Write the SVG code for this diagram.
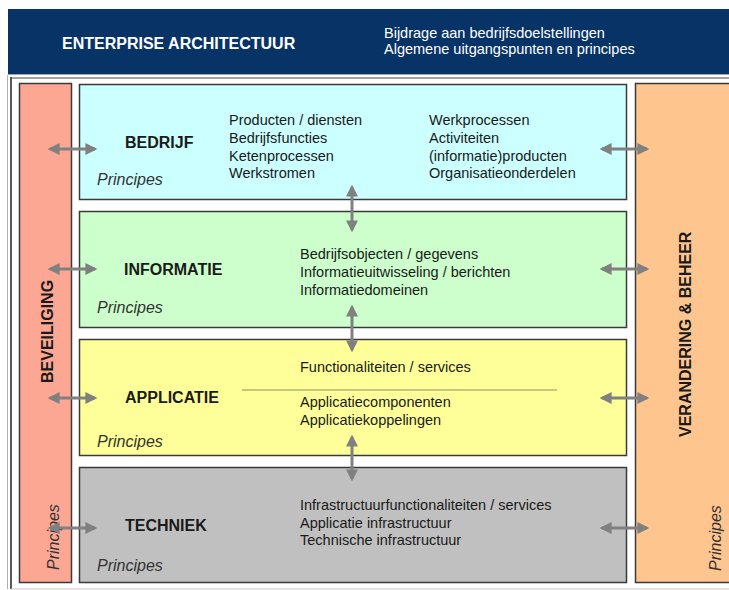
<svg xmlns="http://www.w3.org/2000/svg" width="729" height="590" viewBox="0 0 729 590">
<defs>
<style>
.t{font-family:"Liberation Sans",Arial,sans-serif;font-size:14.5px;fill:#1a1a1a}
.h{font-family:"Liberation Sans",Arial,sans-serif;font-size:16px;font-weight:bold;fill:#1a1a1a}
.p{font-family:"Liberation Sans",Arial,sans-serif;font-size:16px;font-style:italic;fill:#333}
.box{stroke:#3a3a3a;stroke-width:1.5}
.arr{stroke:#808080;stroke-width:3;fill:none;marker-start:url(#ah);marker-end:url(#ah)}
</style>
<marker id="ah" viewBox="0 0 10 10" refX="8" refY="5" markerWidth="4" markerHeight="4" orient="auto-start-reverse" markerUnits="strokeWidth">
<path d="M0,0 L10,5 L0,10 z" fill="#808080"/>
</marker>
</defs>
<rect width="729" height="590" fill="#ffffff"/>
<g id="header">
<rect x="8" y="9" width="721" height="65" fill="#083366"/>
<line x1="8" y1="74.5" x2="729" y2="74.5" stroke="#9aa6b8" stroke-width="1"/>
<text x="62" y="49" font-family="'Liberation Sans',Arial,sans-serif" font-size="16" font-weight="bold" fill="#ffffff">ENTERPRISE ARCHITECTUUR</text>
<text x="384" y="38" font-family="'Liberation Sans',Arial,sans-serif" font-size="14.5" fill="#ffffff">Bijdrage aan bedrijfsdoelstellingen</text>
<text x="384" y="54" font-family="'Liberation Sans',Arial,sans-serif" font-size="14.5" fill="#ffffff">Algemene uitgangspunten en principes</text>
</g>
<g id="frame">
<line x1="7.5" y1="75" x2="7.5" y2="589" stroke="#b0b0b0" stroke-width="1"/>
<line x1="11" y1="77" x2="11" y2="589" stroke="#222" stroke-width="1.5"/>
<line x1="11" y1="78" x2="729" y2="78" stroke="#444" stroke-width="1"/>
<line x1="11" y1="589" x2="729" y2="589" stroke="#c8c8c8" stroke-width="1"/>
</g>
<g id="beveiliging">
<rect class="box" x="19.5" y="83.5" width="52" height="499" fill="#fca793"/>
<text class="h" transform="translate(53,383) rotate(-90)">BEVEILIGING</text>
<text class="p" transform="translate(59,570) rotate(-90)">Principes</text>
</g>
<g id="verandering">
<rect class="box" x="635.5" y="83.5" width="100" height="499" fill="#fec68e"/>
<text class="h" transform="translate(691,437) rotate(-90)">VERANDERING &amp; BEHEER</text>
<text class="p" transform="translate(721,571) rotate(-90)">Principes</text>
</g>
<g id="bedrijf">
<rect class="box" x="79.5" y="84.5" width="547" height="115" fill="#ccffff"/>
<text class="h" x="125" y="148">BEDRIJF</text>
<text class="p" x="97" y="185">Principes</text>
<text class="t" x="229" y="125">Producten / diensten</text>
<text class="t" x="229" y="143">Bedrijfsfuncties</text>
<text class="t" x="229" y="161">Ketenprocessen</text>
<text class="t" x="229" y="178">Werkstromen</text>
<text class="t" x="429" y="125">Werkprocessen</text>
<text class="t" x="429" y="143">Activiteiten</text>
<text class="t" x="429" y="161">(informatie)producten</text>
<text class="t" x="429" y="178">Organisatieonderdelen</text>
</g>
<g id="informatie">
<rect class="box" x="79.5" y="211.5" width="547" height="116" fill="#ccffcc"/>
<text class="h" x="124" y="275">INFORMATIE</text>
<text class="p" x="97" y="313">Principes</text>
<text class="t" x="300" y="259">Bedrijfsobjecten / gegevens</text>
<text class="t" x="300" y="277">Informatieuitwisseling / berichten</text>
<text class="t" x="300" y="295">Informatiedomeinen</text>
</g>
<g id="applicatie">
<rect class="box" x="79.5" y="339.5" width="547" height="116" fill="#ffff99"/>
<text class="h" x="125" y="403">APPLICATIE</text>
<text class="p" x="97" y="447">Principes</text>
<text class="t" x="300" y="372">Functionaliteiten / services</text>
<line x1="242" y1="390" x2="557" y2="390" stroke="#8c8c60" stroke-width="1"/>
<text class="t" x="300" y="407">Applicatiecomponenten</text>
<text class="t" x="300" y="425">Applicatiekoppelingen</text>
</g>
<g id="techniek">
<rect class="box" x="79.5" y="467.5" width="547" height="115" fill="#c0c0c0"/>
<text class="h" x="125" y="531">TECHNIEK</text>
<text class="p" x="97" y="571">Principes</text>
<text class="t" x="300" y="510">Infrastructuurfunctionaliteiten / services</text>
<text class="t" x="300" y="528">Applicatie infrastructuur</text>
<text class="t" x="300" y="545">Technische infrastructuur</text>
</g>
<g id="connectors">
<line class="arr" x1="50" y1="149" x2="95" y2="149"/>
<line class="arr" x1="50" y1="269" x2="95" y2="269"/>
<line class="arr" x1="50" y1="398" x2="95" y2="398"/>
<line class="arr" x1="50" y1="528" x2="95" y2="528"/>
<line class="arr" x1="602" y1="149" x2="647" y2="149"/>
<line class="arr" x1="602" y1="269" x2="647" y2="269"/>
<line class="arr" x1="602" y1="398" x2="647" y2="398"/>
<line class="arr" x1="602" y1="528" x2="647" y2="528"/>
<line class="arr" x1="352" y1="187" x2="352" y2="230"/>
<line class="arr" x1="352" y1="307" x2="352" y2="350"/>
<line class="arr" x1="352" y1="437" x2="352" y2="479"/>
</g>
</svg>
